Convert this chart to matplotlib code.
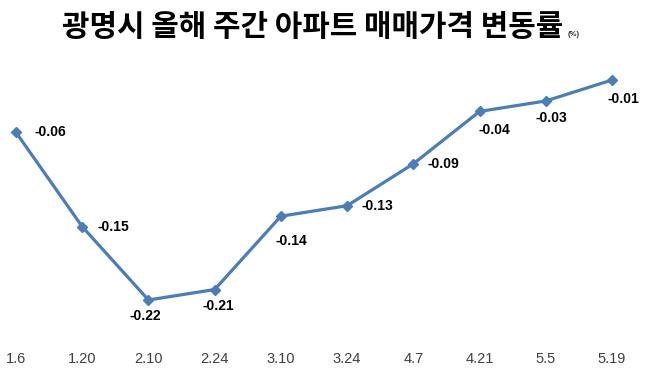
import matplotlib
matplotlib.use("Agg")
import matplotlib.pyplot as plt

# ---- data ----
dates = ["1.6", "1.20", "2.10", "2.24", "3.10", "3.24", "4.7", "4.21", "5.5", "5.19"]
changes = [-0.06, -0.15, -0.22, -0.21, -0.14, -0.13, -0.09, -0.04, -0.03, -0.01]
label_texts = ["-0.06", "-0.15", "-0.22", "-0.21", "-0.14", "-0.13", "-0.09", "-0.04", "-0.03", "-0.01"]

title = "광명시 올해 주간 아파트 매매가격 변동률"
unit = "(%)"

# label placement (offset in pixels, horizontal alignment)
label_offsets = [(18, 0, "left"), (15, 0, "left"), (-3, -16, "center"), (4, -16, "center"),
                 (10, -25, "center"), (14, 0, "left"), (14, 0, "left"), (15, -19, "center"),
                 (6, -17, "center"), (11, -19, "center")]

LINE = "#4A7EBB"
num_font = "Liberation Sans"

fig = plt.figure(figsize=(6.55, 3.74), dpi=100)
H = 374.0
ax = fig.add_axes([0, (H - 345) / H, 1, (345 - 60) / H])

x = list(range(len(dates)))
ax.plot(x, changes, color=LINE, linewidth=2.3, marker="D", markersize=5.5,
        markerfacecolor=LINE, markeredgecolor=LINE, zorder=3)

for xi, yi, t, (dx, dy, ha) in zip(x, changes, label_texts, label_offsets):
    ax.annotate(t, (xi, yi), xytext=(dx, dy), textcoords="offset pixels",
                ha=ha, va="center", fontsize=10, fontweight="bold",
                family=num_font, color="#000000")

ax.set_xlim(-16 / 66.22, 9 + 43 / 66.22)
ax.set_ylim(-0.01 - 265 / 1047.6, -0.01 + 20 / 1047.6)
ax.set_xticks(x)
ax.set_xticklabels(dates, fontsize=10.5, family=num_font, color="#404040")
ax.tick_params(axis="x", length=0, pad=5)
ax.set_yticks([])
for s in ax.spines.values():
    s.set_visible(False)

fig.text(62 / 655, 1 - 27 / H, title, ha="left", va="center", fontsize=21.5,
         fontweight="bold", family=["Noto Sans CJK KR", "DejaVu Sans"], color="#000000")
fig.text(568 / 655, 1 - 34 / H, unit, ha="left", va="center", fontsize=5.5,
         fontweight="bold", family=num_font, color="#333333")

fig.savefig("out.png", dpi=100)
